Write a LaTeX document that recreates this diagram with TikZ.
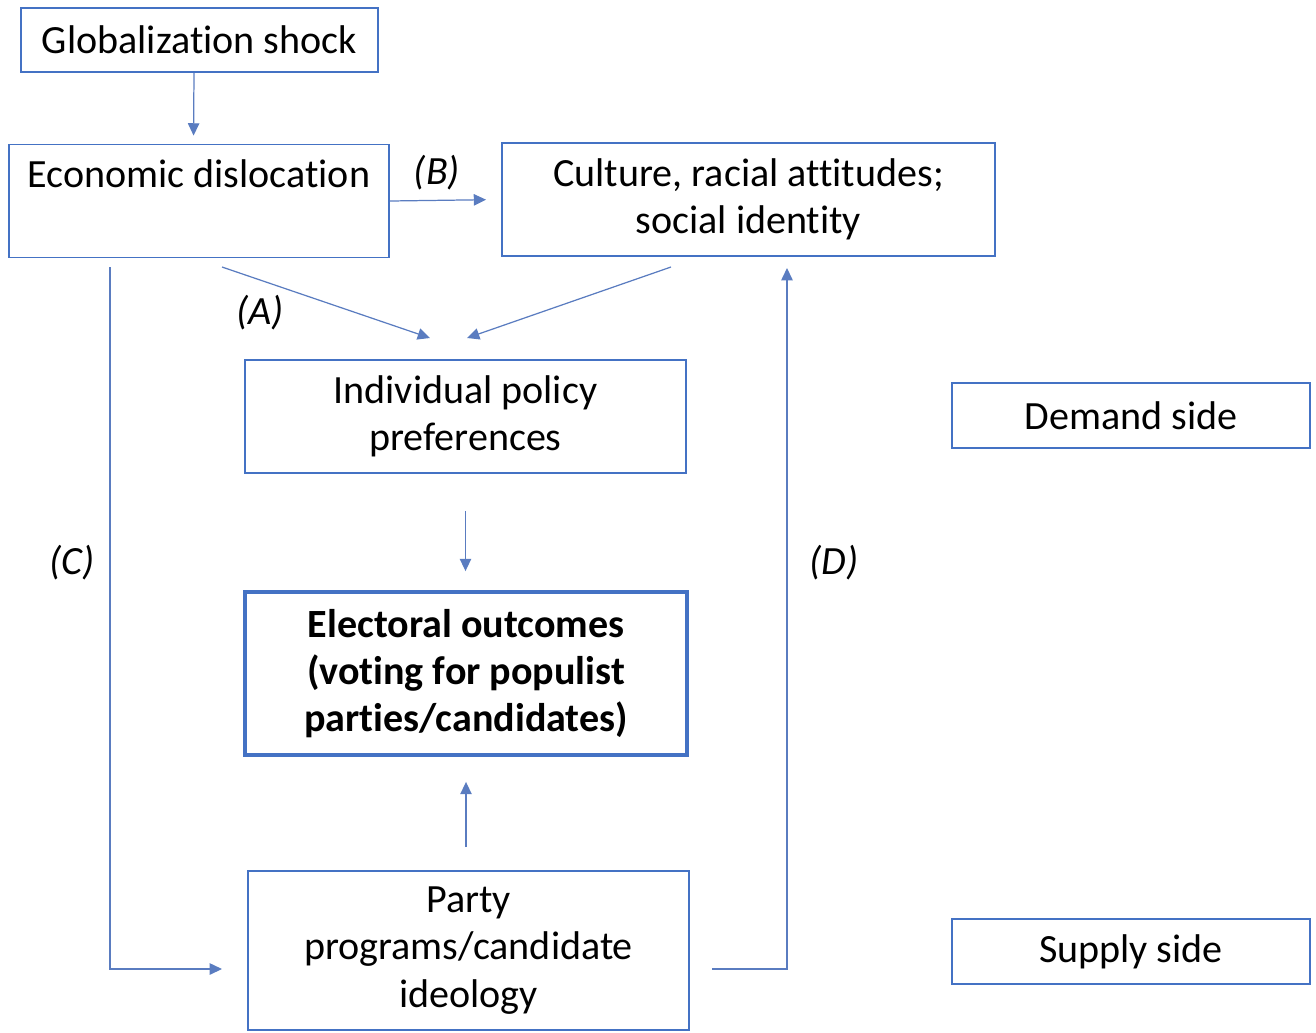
\documentclass[tikz,border=0pt]{standalone}
\usepackage{fontspec}
\setmainfont[Ligatures=CommonOff]{Carlito}
\usetikzlibrary{arrows.meta,calc}
\definecolor{obl}{HTML}{4472C4}
\definecolor{cbl}{HTML}{5A7CC0}
\tikzset{
  box/.style={draw=obl, line width=1.1pt, inner sep=0pt, align=center, font=\fontsize{22.8}{26.8}\selectfont},
  thick box/.style={box, line width=2.2pt, font=\fontsize{22.8}{26.8}\selectfont\bfseries},
  arr/.style={draw=cbl, line width=0.7pt, -{Triangle[length=7pt,width=6.5pt]}},
  lab/.style={font=\fontsize{22.8}{26.8}\selectfont\itshape, inner sep=0pt}
}
\begin{document}
\begin{tikzpicture}[x=0.02cm,y=-0.02cm]
\useasboundingbox (0,0) rectangle (1316,1032);
\node[box, minimum width=7.14cm, minimum height=1.28cm] (glob) at (199.5,40) {Globalization shock};
\node[box, minimum width=7.6cm, minimum height=2.26cm] (econ) at (199,201) {Economic dislocation\\[4pt]\mbox{}};
\node[box, minimum width=9.86cm, minimum height=2.26cm] (cult) at (748.5,199.5) {Culture, racial attitudes;\\social identity};
\node[box, minimum width=8.82cm, minimum height=2.26cm] (ipp) at (465.5,416.5) {Individual policy\\preferences};
\node[thick box, minimum width=8.84cm, minimum height=3.26cm] (eo) at (466,673.5) {Electoral outcomes\\(voting for populist\\parties/candidates)};
\node[box, minimum width=8.82cm, minimum height=3.18cm] (party) at (468.5,950.5) {Party\\programs/candidate\\ideology};
\node[box, minimum width=7.16cm, minimum height=1.3cm] (demand) at (1131,415.5) {Demand side};
\node[box, minimum width=7.16cm, minimum height=1.3cm] (supply) at (1131,951.5) {Supply side};

\coordinate (a1) at (222,267);
\coordinate (a2) at (430,338);
\coordinate (k1) at (671,267);
\coordinate (k2) at (467,338);
\coordinate (c1) at (110,267);
\coordinate (c2) at (222,969);
\coordinate (d1) at (712,969);
\coordinate (d2) at (787,268);

\draw[arr, shorten >=0.16cm] ([xshift=-0.11cm]glob.south) -- ([xshift=-0.11cm]econ.north);
\draw[arr, shorten >=0.3cm] (econ.east) -- (cult.west);
\draw[arr] (a1) -- (a2);
\draw[arr] (k1) -- (k2);
\draw[arr, shorten <=0.74cm, shorten >=0.38cm] (ipp.south) -- (ipp.south |- eo.north);
\draw[arr, shorten <=0.46cm, shorten >=0.5cm] (eo.south |- party.north) -- (eo.south);
\draw[arr] (c1) |- (c2);
\draw[arr] (d1) -| (d2);

\node[lab] (la) at (260,313) {(A)};
\node[lab] (lb) at (437,173) {(B)};
\node[lab] (lc) at (72,563) {(C)};
\node[lab] (ld) at (834,563) {(D)};
\end{tikzpicture}
\end{document}
